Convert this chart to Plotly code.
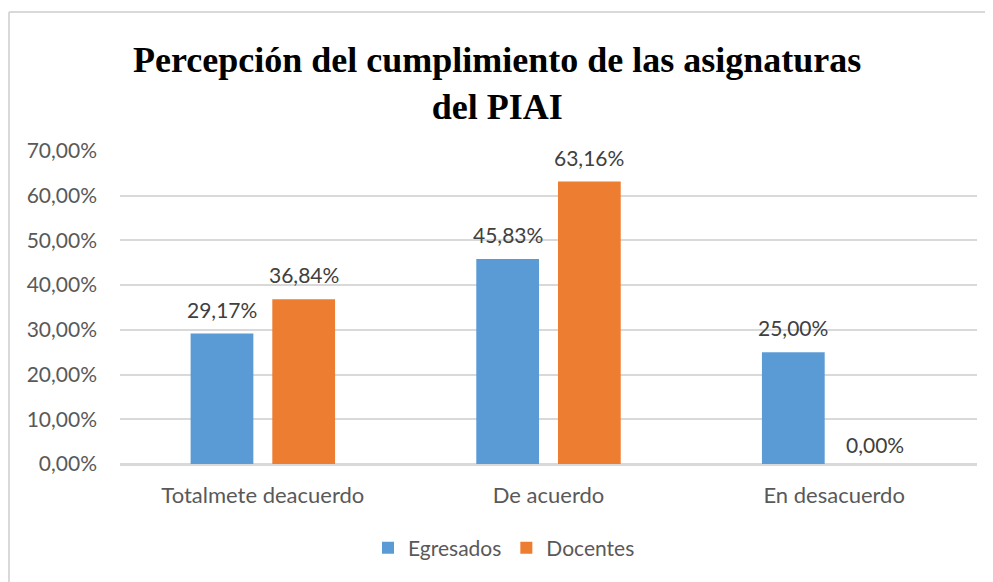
import plotly.graph_objects as go

categories = ["Totalmete deacuerdo", "De acuerdo", "En desacuerdo"]
egresados = [29.17, 45.83, 25.00]
docentes = [36.84, 63.16, 0.00]
series_names = ["Egresados", "Docentes"]
colors = ["#5B9BD5", "#ED7D31"]
title_lines = ["Percepción del cumplimiento de las asignaturas", "del PIAI"]

# page body has an 8px default margin; figure pixels = page pixels - 8
OFF = 8
W, H = 993 - OFF, 582 - OFF
ml, mr, mt, mb = 120 - OFF, W - (977 - OFF), 151 - OFF, H - (464 - OFF)
pw, ph = W - ml - mr, H - mt - mb

def px_x(px):  # page pixel -> paper x
    return (px - OFF - ml) / pw

def px_y(py):  # page pixel -> paper y
    return (H - mb - (py - OFF)) / ph

BARGAP, GROUPGAP = 0.428, 0.232
FONT = "Lato, Calibri, sans-serif"

fig = go.Figure()
series = [egresados, docentes]
xs = list(range(len(categories)))
for name, vals, col in zip(series_names, series, colors):
    fig.add_trace(go.Bar(
        name=name, x=xs, y=vals,
        marker=dict(color=col, line=dict(width=0)),
    ))

# data labels (annotations anchored to each bar's data position)
slot = (1 - BARGAP) / len(series)
annotations = []
for si, vals in enumerate(series):
    off = -(1 - BARGAP) / 2 + slot * (si + 0.5)
    for i, v in enumerate(vals):
        annotations.append(dict(
            x=i + off, y=v, xref="x", yref="y",
            text=f"{v:.2f}%".replace(".", ","),
            showarrow=False, xanchor="center", yanchor="bottom",
            yshift=10 if v > 0 else 5,
            font=dict(family=FONT, size=21, color="#404040"),
        ))

annotations.append(dict(
    text="<b>" + "<br>".join(title_lines) + "</b>",
    xref="paper", yref="paper",
    x=px_x(497), y=px_y(83),
    xanchor="center", yanchor="middle", showarrow=False,
    font=dict(family="Liberation Serif, Times New Roman, serif", size=36, color="black"),
))

fig.update_layout(
    width=W, height=H,
    margin=dict(l=ml, r=mr, t=mt, b=mb),
    paper_bgcolor="white", plot_bgcolor="white",
    separators=",.",
    barmode="group", bargap=BARGAP, bargroupgap=GROUPGAP,
    showlegend=True,
    legend=dict(orientation="h", x=px_x(504), xanchor="center",
                y=px_y(548), yanchor="middle",
                font=dict(family=FONT, size=21, color="#595959"),
                traceorder="normal"),
    font=dict(family=FONT, color="#595959"),
    annotations=annotations,
    shapes=[
        dict(type="line", xref="paper", yref="paper",
             x0=px_x(9), x1=px_x(1100),
             y0=px_y(12), y1=px_y(12),
             line=dict(color="#D9D9D9", width=2)),
        dict(type="line", xref="paper", yref="paper",
             x0=px_x(9), x1=px_x(9),
             y0=px_y(12), y1=px_y(700),
             line=dict(color="#D9D9D9", width=2)),
    ],
)

fig.update_yaxes(range=[0, 70], dtick=10, tickformat=".2f", ticksuffix="%",
                 showgrid=True, gridcolor="#D9D9D9", gridwidth=1.5,
                 zeroline=True, zerolinecolor="#D9D9D9", zerolinewidth=1.5,
                 showline=False, ticks="", ticklabelstandoff=22,
                 tickfont=dict(family=FONT, size=21, color="#595959"))
fig.update_xaxes(range=[-0.5, len(categories) - 0.5],
                 tickvals=xs, ticktext=categories,
                 showgrid=False, showline=True, linecolor="#D9D9D9", linewidth=1.5,
                 ticks="", ticklabelstandoff=11,
                 tickfont=dict(family=FONT, size=22, color="#595959"))

fig.write_html("out.html")
